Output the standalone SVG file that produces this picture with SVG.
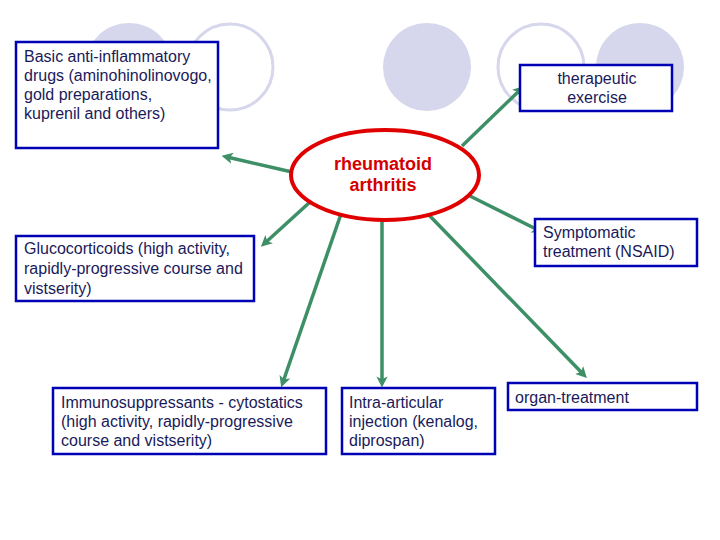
<svg xmlns="http://www.w3.org/2000/svg" width="720" height="540" viewBox="0 0 720 540">
<defs>
<marker id="ah" markerWidth="3.2" markerHeight="3.2" refX="1.6" refY="1.6" orient="auto" markerUnits="strokeWidth">
<path d="M0,0 L3.2,1.6 L0,3.2 L0.8,1.6 Z" fill="#3d8f66"/>
</marker>
</defs>
<style>
.bg{fill:#d6d6ec}
.bgo{fill:none;stroke:#d6d6ec;stroke-width:3}
.box{fill:#fff;stroke:#0000b4;stroke-width:2.5}
.t{font-family:"Liberation Sans",Arial,sans-serif;font-size:16px;fill:#1a1a5a}
.c{fill:none;stroke:#3d8f66;stroke-width:3.5;marker-end:url(#ah)}
.rt{font-family:"Liberation Sans",Arial,sans-serif;font-size:18px;font-weight:bold;fill:#d40000;text-anchor:middle}
</style>
<rect width="720" height="540" fill="#fff"/>
<g id="background">
<ellipse class="bg" cx="129" cy="67" rx="44" ry="44"/>
<ellipse class="bgo" cx="230" cy="67" rx="43" ry="43"/>
<ellipse class="bg" cx="427" cy="67" rx="44" ry="44"/>
<ellipse class="bgo" cx="541" cy="67" rx="43" ry="43"/>
<ellipse class="bg" cx="640" cy="67" rx="44" ry="44"/>
</g>
<g id="connectors">
<line class="c" x1="292" y1="172" x2="227" y2="157"/>
<line class="c" x1="462" y1="146" x2="520" y2="90"/>
<line class="c" x1="310" y1="202" x2="265" y2="243"/>
<line class="c" x1="470" y1="196" x2="538" y2="230"/>
<line class="c" x1="341" y1="214" x2="283" y2="382"/>
<line class="c" x1="382" y1="220" x2="382" y2="382"/>
<line class="c" x1="427" y1="213" x2="583" y2="374"/>
</g>
<g id="center">
<ellipse cx="385" cy="175" rx="94" ry="45" fill="#fff" stroke="#e00000" stroke-width="4"/>
<text class="rt" x="383" y="170">rheumatoid</text>
<text class="rt" x="383" y="191">arthritis</text>
</g>
<g id="basic">
<rect class="box" x="16" y="42" width="202" height="106"/>
<text class="t"><tspan x="24" y="62">Basic anti-inflammatory</tspan><tspan x="24" y="81">drugs (aminohinolinovogo,</tspan><tspan x="24" y="100">gold preparations,</tspan><tspan x="24" y="119">kuprenil and others)</tspan></text>
</g>
<g id="therapeutic">
<rect class="box" x="520" y="65" width="152" height="46"/>
<text class="t" text-anchor="middle"><tspan x="597" y="84">therapeutic</tspan><tspan x="597" y="103">exercise</tspan></text>
</g>
<g id="gluco">
<rect class="box" x="16" y="236" width="238" height="65"/>
<text class="t"><tspan x="24" y="254">Glucocorticoids (high activity,</tspan><tspan x="24" y="274">rapidly-progressive course and</tspan><tspan x="24" y="294">vistserity)</tspan></text>
</g>
<g id="symptomatic">
<rect class="box" x="535" y="219" width="162" height="47"/>
<text class="t"><tspan x="543" y="238">Symptomatic</tspan><tspan x="543" y="257">treatment (NSAID)</tspan></text>
</g>
<g id="immuno">
<rect class="box" x="53" y="388" width="273" height="66"/>
<text class="t"><tspan x="61" y="408">Immunosuppressants - cytostatics</tspan><tspan x="61" y="427">(high activity, rapidly-progressive</tspan><tspan x="61" y="446">course and vistserity)</tspan></text>
</g>
<g id="intra">
<rect class="box" x="342" y="388" width="153" height="66"/>
<text class="t"><tspan x="349" y="408">Intra-articular</tspan><tspan x="349" y="427">injection (kenalog,</tspan><tspan x="349" y="446">diprospan)</tspan></text>
</g>
<g id="organ">
<rect class="box" x="508" y="383" width="189" height="27"/>
<text class="t"><tspan x="515" y="403">organ-treatment</tspan></text>
</g>
</svg>
